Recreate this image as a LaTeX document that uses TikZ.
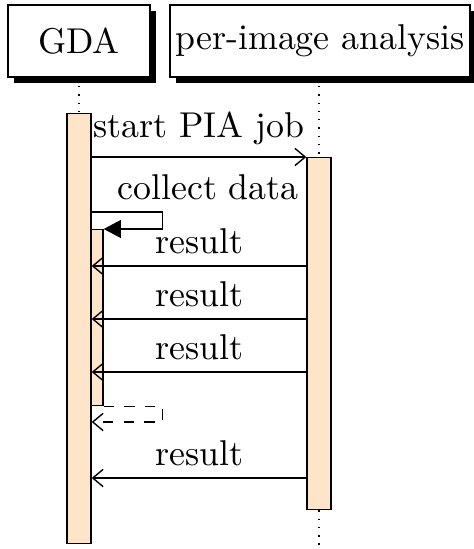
\documentclass[tikz,border=0pt]{standalone}
\usepackage{tikz}
\usetikzlibrary{shadows,arrows.meta}

\definecolor{barfill}{RGB}{254,228,200}

\tikzset{
	thread/.style={draw, fill=white, minimum height=72*0.29pt, inner sep=0pt,
		drop shadow={shadow xshift=1.74pt, shadow yshift=-1.74pt, opacity=1, fill=black}},
	callbar/.style={draw, fill=barfill, minimum width=24*0.29pt, inner sep=0pt, anchor=north},
	lifeline/.style={dotted},
	msg/.style={-{Straight Barb[length=3pt,width=5pt]}},
	selfmsg/.style={-{Triangle[length=5pt,width=5.2pt]}},
	retmsg/.style={msg, dashed}
}

\begin{document}
\begin{tikzpicture}[x=0.29pt, y=-0.29pt, font=\fontsize{10.4pt}{12pt}\selectfont]
			\def\px{0.29pt}
			\useasboundingbox (0,0) rectangle (474,549);

			% Make threads
			\node[thread, minimum width=142*\px] (gda) at (79,41) {GDA};
			\node[thread, minimum width=300*\px] (pia) at (320,41) {per-image analysis};

			% Make activation bars
			\node[callbar, minimum height=430*\px] (gdacall) at (79,113) {};
			\node[callbar, minimum height=352*\px] (piacall) at (319,157) {};
			\node[callbar, minimum width=12*\px, minimum height=176*\px] (gdaself) at (97,229) {};
			\coordinate (piaend) at (319,549);

			% Lifelines
			\draw[lifeline] (gda.south) -- (gdacall.north);
			\draw[lifeline] (pia.south -| piacall.north) -- (piacall.north);
			\draw[lifeline] (piacall.south) -- (piaend);

			% Make arrows
			\draw[msg] (gdacall.east |- piacall.north) -- (piacall.north west) node[midway, above] {start PIA job};

			\draw[selfmsg] (gdacall.east |- 0,212) -- ++(71,0) |- (gdaself.north east);
			\node[above] (collectlbl) at (208,212) {collect data};

			\foreach \y in {266, 319, 372, 478} {
				\draw[msg] (piacall.west |- 0,\y) -- (gdacall.east |- 0,\y) node[midway, above] {result};
			}

			\draw[retmsg] (gdaself.south east) -- ++(59,0) |- (gdacall.east |- 0,422);
		\end{tikzpicture}
\end{document}
